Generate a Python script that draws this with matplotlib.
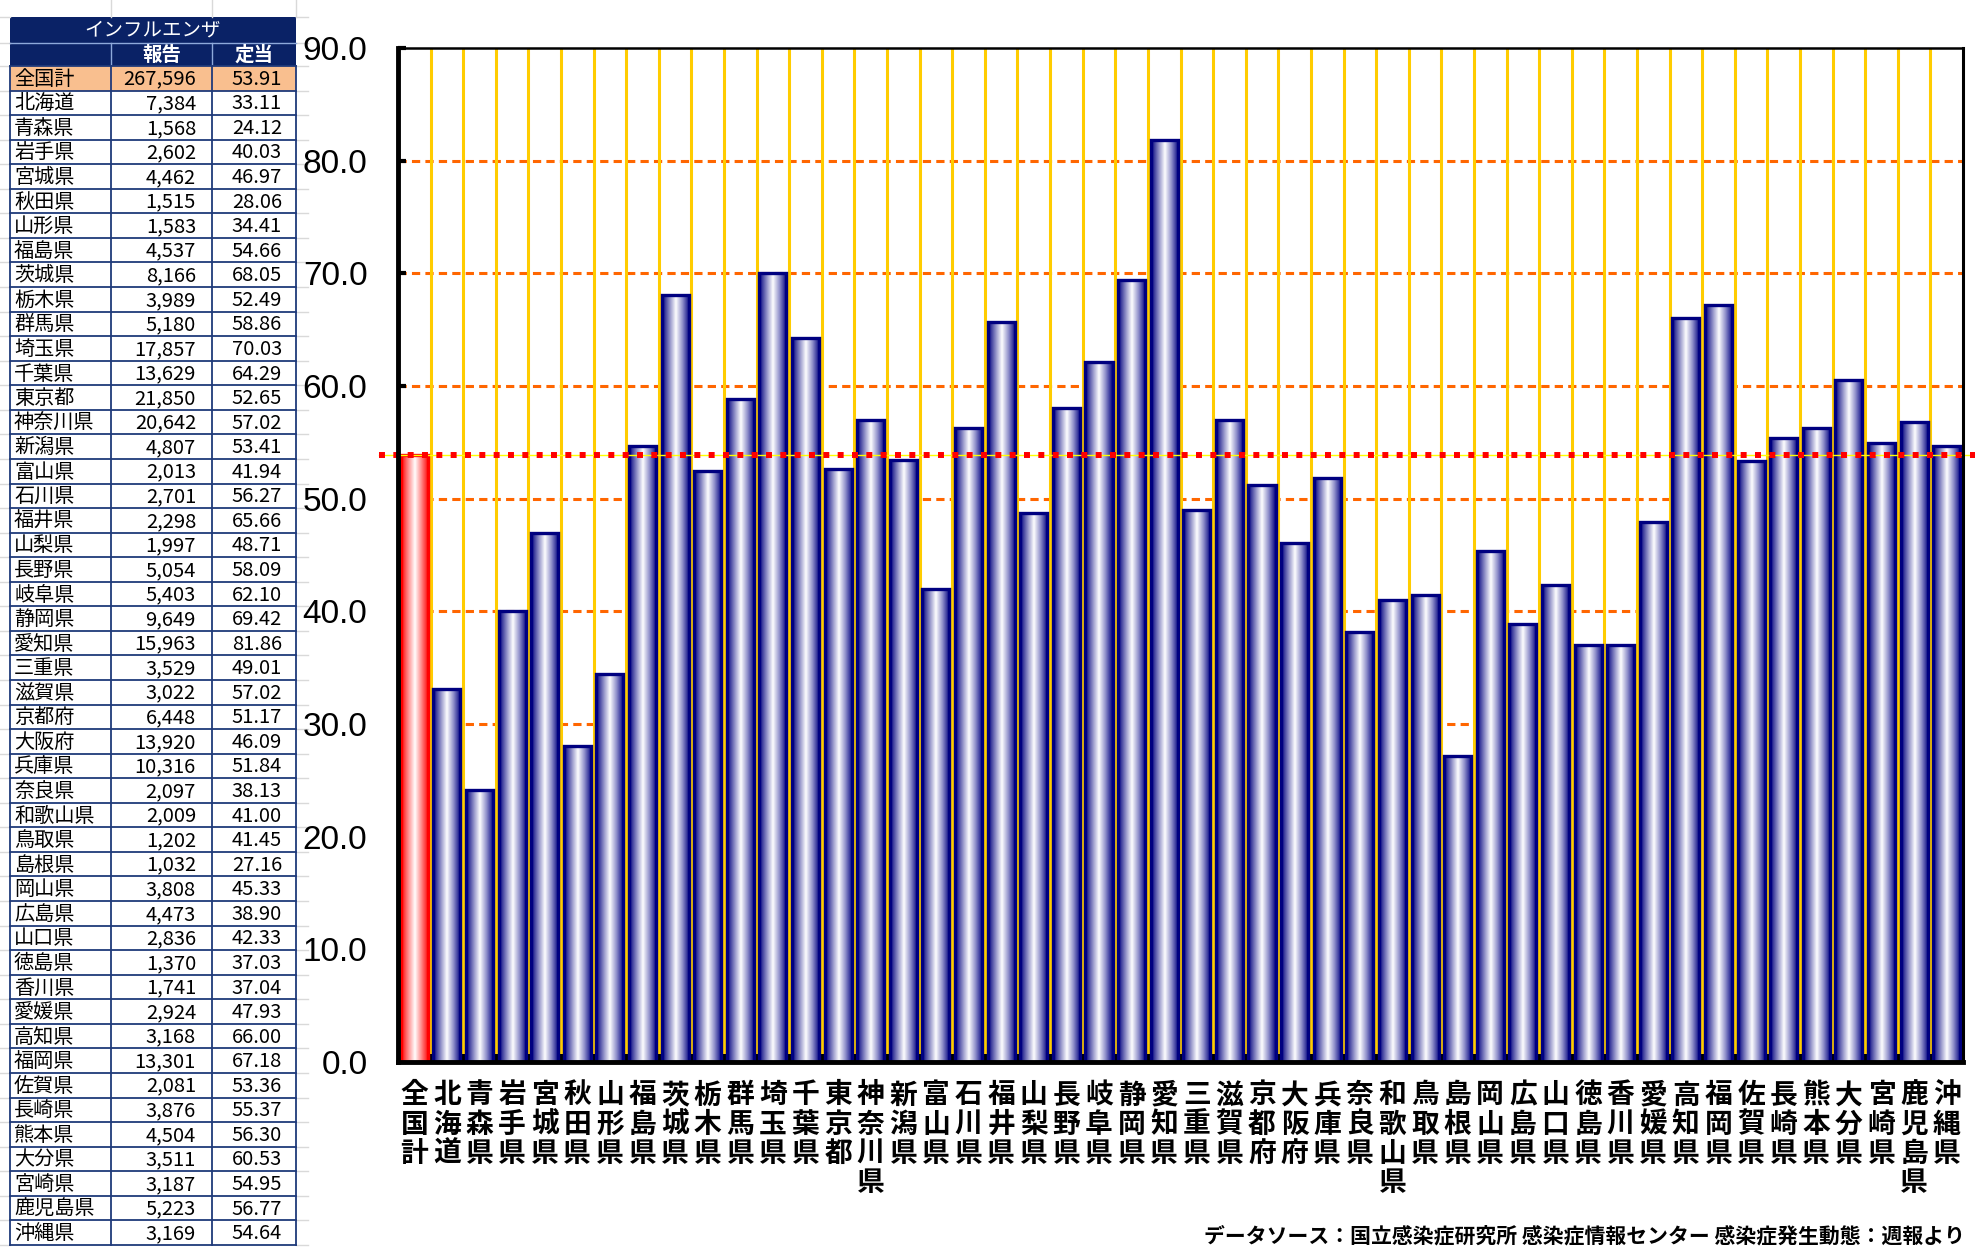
import numpy as np
import matplotlib.pyplot as plt
from matplotlib.colors import LinearSegmentedColormap
from matplotlib.patches import Rectangle

plt.rcParams['font.family'] = ['Noto Sans CJK JP', 'DejaVu Sans']

# データ（週報：インフルエンザ 報告数・定点当たり）
names = ['全国計', '北海道', '青森県', '岩手県', '宮城県', '秋田県', '山形県', '福島県',
         '茨城県', '栃木県', '群馬県', '埼玉県', '千葉県', '東京都', '神奈川県', '新潟県',
         '富山県', '石川県', '福井県', '山梨県', '長野県', '岐阜県', '静岡県', '愛知県',
         '三重県', '滋賀県', '京都府', '大阪府', '兵庫県', '奈良県', '和歌山県', '鳥取県',
         '島根県', '岡山県', '広島県', '山口県', '徳島県', '香川県', '愛媛県', '高知県',
         '福岡県', '佐賀県', '長崎県', '熊本県', '大分県', '宮崎県', '鹿児島県', '沖縄県']
reports = [267596, 7384, 1568, 2602, 4462, 1515, 1583, 4537,
           8166, 3989, 5180, 17857, 13629, 21850, 20642, 4807,
           2013, 2701, 2298, 1997, 5054, 5403, 9649, 15963,
           3529, 3022, 6448, 13920, 10316, 2097, 2009, 1202,
           1032, 3808, 4473, 2836, 1370, 1741, 2924, 3168,
           13301, 2081, 3876, 4504, 3511, 3187, 5223, 3169]
per_site = [53.91, 33.11, 24.12, 40.03, 46.97, 28.06, 34.41, 54.66,
            68.05, 52.49, 58.86, 70.03, 64.29, 52.65, 57.02, 53.41,
            41.94, 56.27, 65.66, 48.71, 58.09, 62.10, 69.42, 81.86,
            49.01, 57.02, 51.17, 46.09, 51.84, 38.13, 41.00, 41.45,
            27.16, 45.33, 38.90, 42.33, 37.03, 37.04, 47.93, 66.00,
            67.18, 53.36, 55.37, 56.30, 60.53, 54.95, 56.77, 54.64]
yticks = [0, 10, 20, 30, 40, 50, 60, 70, 80, 90]
table_title = 'インフルエンザ'
table_cols = ['', '報告', '定当']
source = 'データソース：国立感染症研究所 感染症情報センター 感染症発生動態：週報より'

W, H = 1975, 1249
fig = plt.figure(figsize=(W / 100, H / 100), dpi=100)

# ---- 左の表（ピクセル座標）----
tab = fig.add_axes([0, 0, 1, 1])
tab.set_xlim(0, W)
tab.set_ylim(H, 0)
tab.axis('off')

col_x = [10, 111, 212, 296]
row_top = 66
row_h = 24.56
n = len(names)
bottom = row_top + n * row_h
navy = '#1F3A7A'

# エクセルの薄い枠線
for yb in [17, 43] + [row_top + i * row_h for i in range(n + 1)]:
    tab.plot([0, 10], [yb, yb], color='#D9D9D9', lw=1)
    tab.plot([296, 308], [yb, yb], color='#D9D9D9', lw=1)
for xb in col_x[1:]:
    tab.plot([xb, xb], [0, 17], color='#D9D9D9', lw=1)

tab.add_patch(Rectangle((10, 17), 286, 49, fc='#0A2266', ec='none'))
tab.plot([10, 296], [43, 43], color='#8EA9DB', lw=1)
for xb in col_x[1:3]:
    tab.plot([xb, xb], [43, 66], color='#8EA9DB', lw=1)
tab.text(153, 30, table_title, color='white', fontsize=14, ha='center', va='center')
tab.text(162, 55, table_cols[1], color='white', fontsize=14, ha='center', va='center', weight='bold')
tab.text(254, 55, table_cols[2], color='white', fontsize=14, ha='center', va='center', weight='bold')

for i, (nm, r, v) in enumerate(zip(names, reports, per_site)):
    y0 = row_top + i * row_h
    if i == 0:
        tab.add_patch(Rectangle((10, y0), 286, row_h, fc='#F9BF8F', ec='none'))
    yc = y0 + row_h / 2 + 1
    tab.text(14, yc, nm, fontsize=14.5, ha='left', va='center')
    tab.text(196, yc, f'{r:,}', fontsize=14.5, ha='right', va='center')
    tab.text(282, yc, f'{v:.2f}', fontsize=14.5, ha='right', va='center')

for i in range(n + 1):
    yb = row_top + i * row_h
    tab.plot([10, 296], [yb, yb], color=navy, lw=1.3)
for xb in col_x:
    tab.plot([xb, xb], [row_top, bottom], color=navy, lw=1.3)

# ---- 棒グラフ ----
ax = fig.add_axes([398 / W, 1 - 1062 / H, (1963 - 398) / W, (1062 - 48) / H])
x = np.arange(n)
bw = 0.83

for y in yticks[1:-1]:
    ax.axhline(y, color='#FF6600', lw=2.2, ls=(0, (2.7, 1.7)), zorder=1)
for b in x[:-1] + 0.5:
    ax.axvline(b, color='#FFCC00', lw=2.2, zorder=1)

blue_cmap = LinearSegmentedColormap.from_list(
    'cyl_b', [(0, '#000080'), (0.2, '#6A6AB4'), (0.5, '#FFFFFF'), (0.75, '#8A8AC8'), (1, '#000080')])
red_cmap = LinearSegmentedColormap.from_list(
    'cyl_r', [(0, '#FF0000'), (0.2, '#FF7070'), (0.5, '#FFFFFF'), (0.75, '#FF8080'), (1, '#FF0000')])
grad = np.linspace(0, 1, 64).reshape(1, -1)

for xi, v in zip(x, per_site):
    cm = red_cmap if xi == 0 else blue_cmap
    ax.imshow(grad, extent=[xi - bw / 2, xi + bw / 2, 0, v], aspect='auto',
              cmap=cm, interpolation='bilinear', zorder=3)
edge = ['#FF0000'] + ['#000080'] * (n - 1)
ax.bar(x, per_site, width=bw, color='none', edgecolor=edge, linewidth=2.4, zorder=4)

avg = per_site[0]
ax.plot([-0.012, 1.008], [avg, avg], transform=ax.get_yaxis_transform(),
        color='#FFFF00', lw=1, clip_on=False, zorder=5)
ax.plot([-0.012, 1.008], [avg, avg], transform=ax.get_yaxis_transform(),
        color='#FF0000', lw=4.3, ls=(0, (1, 1.4)), clip_on=False, zorder=6)

ax.set_xlim(-0.5, n - 0.5)
ax.set_ylim(0, 90)

for side, lw in [('left', 3.5), ('bottom', 3.5), ('top', 1.8), ('right', 2.2)]:
    ax.spines[side].set_linewidth(lw)
    ax.spines[side].set_color('black')
    ax.spines[side].set_zorder(7)

ax.set_yticks(yticks)
ax.set_yticklabels([f'{v:.1f}' for v in yticks],
                   family=['Liberation Sans Narrow', 'Liberation Sans', 'DejaVu Sans'])
ax.tick_params(axis='y', direction='in', length=6, width=3, pad=22, labelsize=24)

ax.set_xticks(x)
ax.set_xticklabels(['\n'.join(nm) for nm in names], fontsize=20, weight='bold',
                   va='top', linespacing=1.05)
ax.tick_params(axis='x', length=0, pad=14)
ax.set_xticks(x[:-1] + 0.5, minor=True)
ax.tick_params(axis='x', which='minor', direction='in', length=6, width=3)

# 出典（下端ぎりぎりに置く）
fig.text(1965 / W, 1 - 1247 / H, source, ha='right', va='bottom', fontsize=15, weight='bold')

fig.savefig('out.png', dpi=100)
